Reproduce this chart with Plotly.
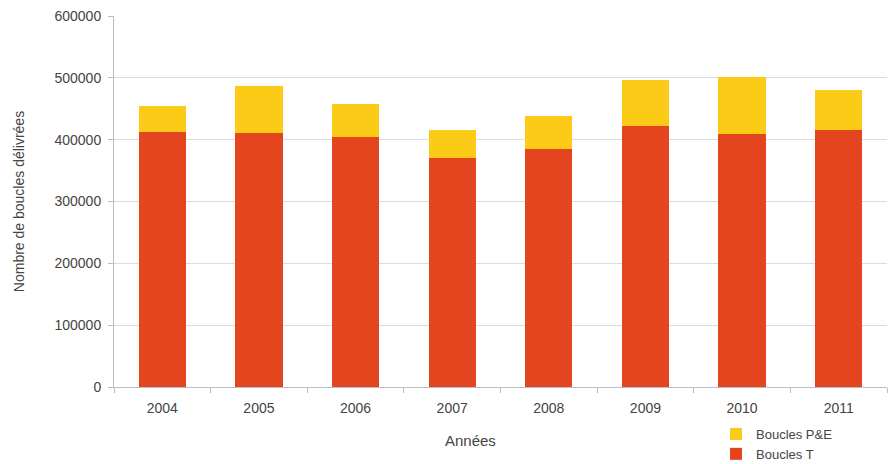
import plotly.graph_objects as go

years = ["2004", "2005", "2006", "2007", "2008", "2009", "2010", "2011"]
boucles_t = [413000, 410000, 404000, 370000, 385000, 422000, 409000, 416000]
totals = [455000, 487000, 458000, 416000, 439000, 497000, 502000, 481000]
boucles_pe = [t - r for t, r in zip(totals, boucles_t)]

y_ticks = [0, 100000, 200000, 300000, 400000, 500000, 600000]

RED = "#E4451F"
YELLOW = "#FCCB17"
TXT = "#444444"
AXIS = "#B8BEC8"
FONT = "Liberation Sans, Arial, sans-serif"

W, H = 896, 464
ML, MR, MT, MB = 114, 9, 16, 77
PW, PH = W - ML - MR, H - MT - MB

fig = go.Figure()
fig.add_trace(go.Bar(x=years, y=boucles_t, name="Boucles T",
                     marker=dict(color=RED, line=dict(width=0))))
fig.add_trace(go.Bar(x=years, y=boucles_pe, name="Boucles P&E",
                     marker=dict(color=YELLOW, line=dict(width=0))))

fig.update_layout(
    barmode="stack",
    bargap=0.51,
    width=W, height=H,
    margin=dict(l=ML, r=MR, t=MT, b=MB, autoexpand=False),
    paper_bgcolor="white",
    plot_bgcolor="white",
    font=dict(family=FONT, size=14, color=TXT),
    showlegend=True,
    legend=dict(
        traceorder="reversed",
        xref="container", yref="container",
        x=716 / W, y=(H - 419) / H, xanchor="left", yanchor="top",
        font=dict(size=13, color=TXT),
        itemwidth=30,
        tracegroupgap=0,
        bgcolor="rgba(0,0,0,0)",
    ),
    annotations=[
        dict(text="Années", x=(470 - ML) / PW, y=(H - MB - 440) / PH,
             xref="paper", yref="paper",
             showarrow=False, font=dict(size=15, color=TXT),
             xanchor="center", yanchor="middle"),
    ],
)

fig.update_xaxes(
    showline=True, linecolor=AXIS, linewidth=1,
    ticks="outside", tickson="boundaries", ticklen=5, tickcolor=AXIS,
    showgrid=False,
    ticklabelstandoff=8,
    tickfont=dict(size=14, color=TXT),
)
fig.update_yaxes(
    range=[0, 600000],
    tickvals=y_ticks,
    ticktext=[str(v) for v in y_ticks],
    showline=True, linecolor=AXIS, linewidth=1,
    ticks="outside", ticklen=5, tickcolor=AXIS,
    showgrid=True, gridcolor="#D9DCE1", gridwidth=1,
    zeroline=False,
    ticklabelstandoff=4,
    tickfont=dict(size=14, color=TXT),
    title=dict(text="Nombre de boucles délivrées", font=dict(size=14, color=TXT),
               standoff=26),
)

fig.write_html("out.html")
